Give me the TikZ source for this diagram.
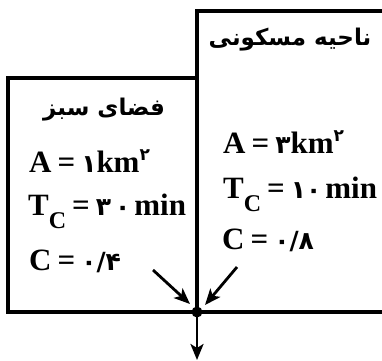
\documentclass[tikz,border=0pt]{standalone}
\usepackage{fontspec}
\setmainfont{Liberation Serif}
\newfontfamily\farsi[Script=Arabic]{DejaVu Sans}
\TeXXeTstate=1
\usetikzlibrary{arrows.meta}
\newcommand{\sub}[1]{\raisebox{-0.95ex}{\fontsize{24}{24}\selectfont #1}}
\newcommand{\sqr}{\raisebox{0.8ex}{\fontsize{17}{17}\selectfont\farsi ۲}}
\newcommand{\num}[1]{{\fontsize{25}{25}\selectfont\farsi #1}}
\newcommand{\eq}{\kern6pt=\kern6pt}

\begin{document}
\begin{tikzpicture}[x=1pt, y=-1pt, font=\fontsize{31}{33}\selectfont\bfseries,
    frame/.style={line width=3.4pt},
    flow/.style={line width=2.8pt, -{Stealth[length=16pt,width=13pt,inset=4pt]}},
    val/.style={anchor=base west, inner sep=0pt},
    title/.style={font=\fontsize{23}{26}\selectfont\bfseries\farsi}]
  \clip (0,0) rectangle (382,360);
  % the two areas
  \draw[frame] (8,78) rectangle (197,312);
  \draw[frame] (197,11) rectangle (400,312);
  % green space
  \node[title] (green) at (104,110) {\beginR فضای سبز\endR};
  \node[val] (ga) at (29,172) {A\eq\num{۱}km\sqr};
  \node[val] (gt) at (28,215) {T\sub{C}\eq\num{۳\kern4pt۰}\kern4pt min};
  \node[val] (gc) at (29,270) {C\eq\num{۰/۴}};
  % residential area
  \node[title] (home) at (290,40) {\beginR ناحیه مسکونی\endR};
  \node[val] (ha) at (223,153) {A\eq\num{۳}km\sqr};
  \node[val] (ht) at (223,198) {T\sub{C}\eq\num{۱۰}\kern4pt min};
  \node[val] (hc) at (222,249) {C\eq\num{۰/۸}};
  % outlet
  \coordinate (jn) at (197,312);
  \coordinate (gs) at (153,270);
  \coordinate (ge) at (190,304);
  \coordinate (hs) at (237,267);
  \coordinate (he) at (205,305);
  \coordinate (out) at (197,360);
  \fill (jn) circle (5.5pt);
  \draw[flow] (gs) -- (ge);
  \draw[flow] (hs) -- (he);
  \draw[flow] (jn) -- (out);
\end{tikzpicture}
\end{document}
